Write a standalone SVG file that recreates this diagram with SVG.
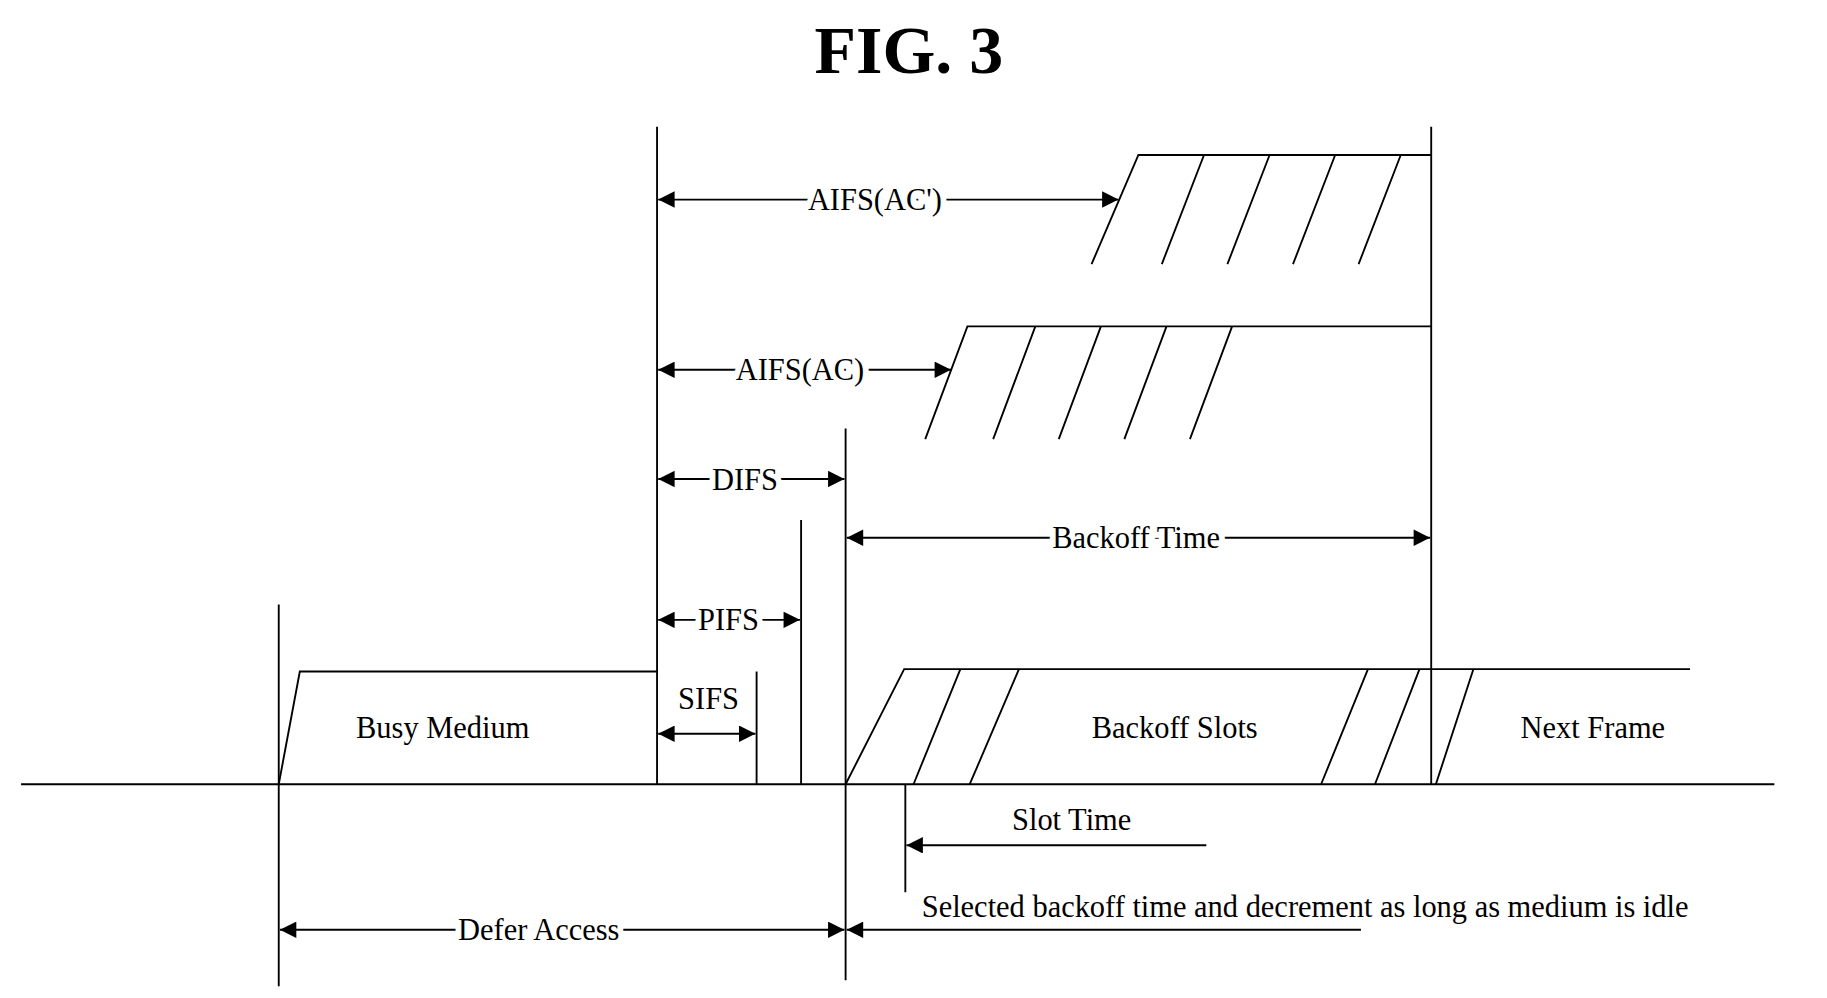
<svg xmlns="http://www.w3.org/2000/svg" width="1827" height="998" viewBox="0 0 1827 998">
<style>
.l{stroke:#000;stroke-width:1.6;fill:none}
.t{font-family:"Liberation Serif",serif;font-size:26px;fill:#000}
.lb{font-family:"Liberation Serif",serif;font-size:26px;fill:#000;stroke:#fff;stroke-width:10px;paint-order:stroke;text-anchor:middle}
</style>
<defs>
<marker id="a" viewBox="0 0 10 10" refX="10" refY="5" markerWidth="16" markerHeight="14" markerUnits="userSpaceOnUse" orient="auto-start-reverse"><path d="M0,0L10,5L0,10z" fill="#000"/></marker>
</defs>
<rect width="1827" height="998" fill="#fff"/>
<g transform="scale(1.1712,1.174)">
<text x="776" y="62" font-family="Liberation Serif,serif" font-size="58" font-weight="bold" text-anchor="middle">FIG. 3</text>
<g id="frames">
<line class="l" x1="18" y1="668" x2="1515" y2="668"/>
<path class="l" d="M238,668L256,572H561"/>
<path class="l" d="M722,668L772,570H1443"/>
<path class="l" d="M780,668L820,570M828,668L870,570M1128,668L1168,570M1174,668L1212,570M1226,668L1258,570"/>
<path class="l" d="M932,225L972,132H1222M992,225L1028,132M1048,225L1084,132M1104,225L1140,132M1160,225L1196,132"/>
<path class="l" d="M790,374L826,278H1222M848,374L884,278M904,374L940,278M960,374L996,278M1016,374L1052,278"/>
</g>
<g id="verticals">
<line class="l" x1="238" y1="515" x2="238" y2="840"/>
<line class="l" x1="561" y1="108" x2="561" y2="668"/>
<line class="l" x1="722" y1="365" x2="722" y2="835"/>
<line class="l" x1="684" y1="443" x2="684" y2="668"/>
<line class="l" x1="646" y1="572" x2="646" y2="668"/>
<line class="l" x1="1222" y1="108" x2="1222" y2="668"/>
<line class="l" x1="773" y1="668" x2="773" y2="760"/>
</g>
<g id="connectors">
<line class="l" x1="562" y1="170" x2="955" y2="170" marker-start="url(#a)" marker-end="url(#a)"/>
<line class="l" x1="562" y1="315" x2="812" y2="315" marker-start="url(#a)" marker-end="url(#a)"/>
<line class="l" x1="562" y1="408" x2="721" y2="408" marker-start="url(#a)" marker-end="url(#a)"/>
<line class="l" x1="723" y1="458" x2="1221" y2="458" marker-start="url(#a)" marker-end="url(#a)"/>
<line class="l" x1="562" y1="528" x2="683" y2="528" marker-start="url(#a)" marker-end="url(#a)"/>
<line class="l" x1="562" y1="625" x2="645" y2="625" marker-start="url(#a)" marker-end="url(#a)"/>
<line class="l" x1="1030" y1="720" x2="774" y2="720" marker-end="url(#a)"/>
<line class="l" x1="239" y1="792" x2="721" y2="792" marker-start="url(#a)" marker-end="url(#a)"/>
<line class="l" x1="1162" y1="792" x2="723" y2="792" marker-end="url(#a)"/>
</g>
<g id="labels">
<text class="lb" x="747" y="179">AIFS(AC')</text>
<text class="lb" x="683" y="324">AIFS(AC)</text>
<text class="lb" x="636" y="417">DIFS</text>
<text class="lb" x="970" y="467">Backoff Time</text>
<text class="lb" x="622" y="537">PIFS</text>
<text class="lb" x="605" y="604">SIFS</text>
<text class="lb" x="460" y="801">Defer Access</text>
<text class="t" x="378" y="629" text-anchor="middle">Busy Medium</text>
<text class="t" x="1003" y="629" text-anchor="middle">Backoff Slots</text>
<text class="t" x="1360" y="629" text-anchor="middle">Next Frame</text>
<text class="t" x="915" y="707" text-anchor="middle">Slot Time</text>
<text class="t" x="787" y="781">Selected backoff time and decrement as long as medium is idle</text>
</g>
</g>
</svg>
